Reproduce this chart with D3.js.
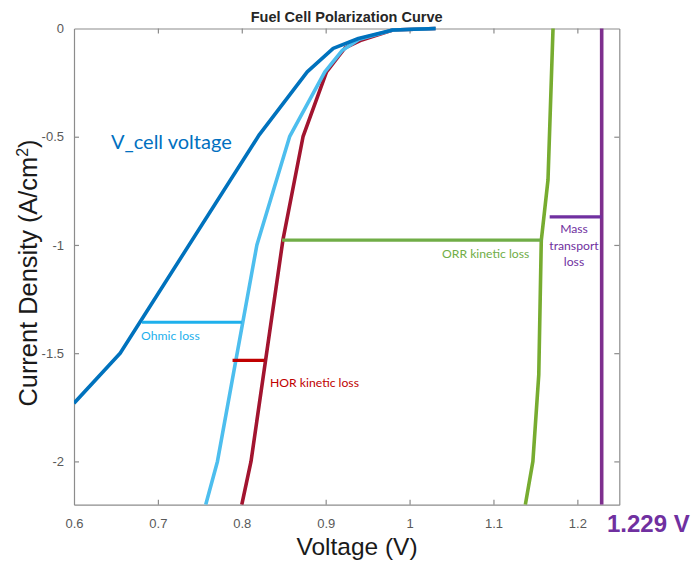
<!DOCTYPE html>
<html><head><meta charset="utf-8">
<script src="https://cdn.jsdelivr.net/npm/d3@7"></script>
<style>body{margin:0;background:#fff;} svg{display:block;}</style>
</head><body>
<svg id="chart" width="691" height="561"></svg>
<script>
// ---- data ----
const xTicks = [0.6, 0.7, 0.8, 0.9, 1.0, 1.1, 1.2];
const yTicks = [0, -0.5, -1, -1.5, -2];
const vcell = [[0.6,-1.731],[0.655,-1.5],[0.821,-0.49],[0.878,-0.2],[0.909,-0.092],[0.939,-0.046],[0.98,-0.007],[1.031,0]];
const ohmic = [[0.757,-2.2],[0.771,-2.0],[0.818,-1.0],[0.857,-0.5],[0.899,-0.2],[0.92,-0.1],[0.94,-0.05],[0.98,-0.007],[1.031,0]];
const hor = [[0.8,-2.2],[0.811,-2.0],[0.849,-0.978],[0.873,-0.5],[0.901,-0.2],[0.923,-0.09],[0.943,-0.053],[0.98,-0.007],[1.031,0]];
const orr = [[1.138,-2.2],[1.147,-2.0],[1.154,-1.6],[1.157,-0.98],[1.165,-0.7],[1.171,0]];
const reversible = [[1.229,-2.2],[1.229,0]];
const lossBars = [
  {name:"Ohmic loss", v0:0.681, v1:0.800, j:-1.357},
  {name:"HOR kinetic loss", v0:0.789, v1:0.827, j:-1.533},
  {name:"ORR kinetic loss", v0:0.848, v1:1.157, j:-0.978},
  {name:"Mass transport loss", v0:1.167, v1:1.229, j:-0.87}
];

// ---- layout ----
const svg = d3.select("#chart");
const L = 74, R = 619.3, T = 28.5, B = 504.7;
const x = d3.scaleLinear().domain([0.6, 1.25]).range([L, R]);
const y = d3.scaleLinear().domain([-2.2, 0]).range([B, T]);
const axisCol = "#8c8c8c", tickTxt = "#595959";
const fmt = d => String(+d.toFixed(2));

// title
svg.append("text").attr("x", (L+R)/2).attr("y", 22).attr("text-anchor","middle")
  .attr("font-family","Arial, 'Liberation Sans', sans-serif").attr("font-weight","bold")
  .attr("font-size",14.5).attr("fill","#262626").text("Fuel Cell Polarization Curve");

// axes (MATLAB-like box with inward ticks)
const gx = svg.append("g").attr("transform",`translate(0,${B})`)
  .call(d3.axisBottom(x).tickValues(xTicks).tickSizeInner(-5).tickSizeOuter(0).tickPadding(14).tickFormat(fmt));
const gxt = svg.append("g").attr("transform",`translate(0,${T})`)
  .call(d3.axisTop(x).tickValues(xTicks).tickSizeInner(-5).tickSizeOuter(0).tickFormat(""));
const gy = svg.append("g").attr("transform",`translate(${L},0)`)
  .call(d3.axisLeft(y).tickValues(yTicks).tickSizeInner(-5).tickSizeOuter(0).tickPadding(10).tickFormat(fmt));
const gyr = svg.append("g").attr("transform",`translate(${R},0)`)
  .call(d3.axisRight(y).tickValues(yTicks).tickSizeInner(-5).tickSizeOuter(0).tickFormat(""));
[gx,gxt,gy,gyr].forEach(g=>{
  g.selectAll("path.domain").attr("stroke",axisCol).attr("stroke-width",1.2);
  g.selectAll(".tick line").attr("stroke",axisCol).attr("stroke-width",1.2);
  g.selectAll(".tick text").attr("fill",tickTxt).attr("font-size",13)
    .attr("font-family","Arial, 'Liberation Sans', sans-serif");
});
gx.selectAll(".tick").filter(d=>d===0.6).select("line").remove();
gxt.selectAll(".tick").filter(d=>d===0.6).select("line").remove();
gy.selectAll(".tick").filter(d=>d===0).select("line").remove();
gyr.selectAll(".tick").filter(d=>d===0).select("line").remove();

// axis labels
svg.append("text").attr("x",357).attr("y",555).attr("text-anchor","middle")
  .attr("font-family","Arial, 'Liberation Sans', sans-serif").attr("font-size",24.5).attr("fill","#1a1a1a")
  .text("Voltage (V)");
const yl = svg.append("text").attr("transform",`translate(37,273) rotate(-90)`).attr("text-anchor","middle")
  .attr("font-family","Arial, 'Liberation Sans', sans-serif").attr("font-size",25.4).attr("fill","#1a1a1a");
yl.append("tspan").text("Current Density (A/cm");
yl.append("tspan").attr("font-size",16).attr("dy",-9).text("2");
yl.append("tspan").attr("dy",9).text(")");

// curves
const line = d3.line().x(d=>x(d[0])).y(d=>y(d[1]));
svg.append("clipPath").attr("id","clip").append("rect")
  .attr("x",L).attr("y",T-3).attr("width",R-L).attr("height",B-T+3);
const curves = [
  {data: reversible, color:"#7E2F8E"},
  {data: orr, color:"#77AC30"},
  {data: hor, color:"#A2142F"},
  {data: ohmic, color:"#4DBEEE"},
  {data: vcell, color:"#0072BD"}
];
const cg = svg.append("g").attr("clip-path","url(#clip)");
curves.forEach(c=>{
  cg.append("path").datum(c.data).attr("d",line).attr("fill","none")
    .attr("stroke",c.color).attr("stroke-width",3.6).attr("stroke-linejoin","round");
});

// loss bars
const barCols = ["#1EB0EC","#C00000","#70AD47","#7030A0"];
lossBars.forEach((b,i)=>{
  svg.append("line").attr("x1",x(b.v0)).attr("x2",x(b.v1)).attr("y1",y(b.j)).attr("y2",y(b.j))
    .attr("stroke",barCols[i]).attr("stroke-width",3.2);
});

// annotations
const af = "Lato, 'Open Sans', sans-serif";
svg.append("text").attr("x",111).attr("y",149).attr("font-family",af).attr("font-size",20)
  .attr("fill","#0070C0").text("V_cell voltage");
svg.append("text").attr("x",141).attr("y",340).attr("font-family",af).attr("font-size",12.2)
  .attr("fill","#1EB0EC").text(lossBars[0].name);
svg.append("text").attr("x",270).attr("y",387).attr("font-family",af).attr("font-size",12.2)
  .attr("fill","#C00000").text(lossBars[1].name);
svg.append("text").attr("x",442).attr("y",258).attr("font-family",af).attr("font-size",12.2)
  .attr("fill","#70AD47").text(lossBars[2].name);
const mt = svg.append("text").attr("text-anchor","middle").attr("font-family",af).attr("font-size",12.2)
  .attr("fill","#7030A0");
["Mass","transport","loss"].forEach((w,i)=>{
  mt.append("tspan").attr("x",574).attr("y",233+i*16.5).text(w);
});
svg.append("text").attr("x",607).attr("y",532).attr("font-family","Arial, 'Liberation Sans', sans-serif")
  .attr("font-weight","bold").attr("font-size",24).attr("fill","#7030A0").text("1.229 V");
</script>
</body></html>
